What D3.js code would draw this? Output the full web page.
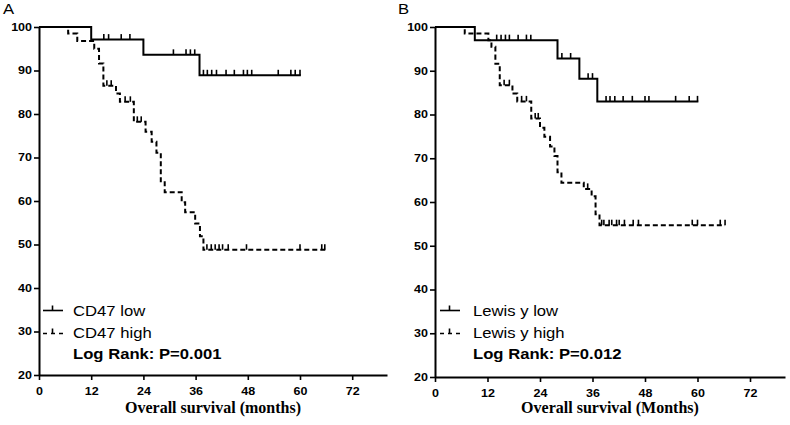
<!DOCTYPE html>
<html>
<head>
<meta charset="utf-8">
<script src="https://cdn.jsdelivr.net/npm/d3@7"></script>
<style>
  html, body { margin: 0; padding: 0; background: #fff; }
  svg { display: block; }
</style>
</head>
<body>
<svg id="chart" width="790" height="425"></svg>
<script>
// ---------------- DATA ----------------
const panelLetters = ["A", "B"];
const xTickValues = [0, 12, 24, 36, 48, 60, 72];
const yTickValues = [20, 30, 40, 50, 60, 70, 80, 90, 100];
const xTitles = ["Overall survival (months)", "Overall survival (Months)"];
const lowLabels = ["CD47 low", "Lewis y low"];
const highLabels = ["CD47 high", "Lewis y high"];
const pLabels = ["Log Rank: P=0.001", "Log Rank: P=0.012"];

// Panel A – CD47 low (solid)
const aLowTimes = [12.0, 24.0, 36.9];
const aLowSurv = [97.1, 93.6, 88.9];
const aLowEnd = 60.2;
const aLowCensor = [14.9, 16.0, 18.9, 20.9, 30.9, 33.8, 34.8, 35.8, 37.8, 38.7, 39.7, 40.8, 43.0, 44.9, 47.0, 47.9, 48.9, 55.0, 57.9, 58.9, 60.0];

// Panel A – CD47 high (dashed)
const aHighTimes = [6.7, 8.8, 12.7, 13.8, 14.8, 17.7, 18.6, 21.8, 24.5, 25.9, 27.0, 28.0, 28.9, 32.8, 33.6, 35.9, 37.0, 37.8];
const aHighSurv = [98.5, 96.8, 95.0, 91.6, 86.5, 84.7, 82.8, 78.2, 75.9, 73.6, 71.1, 64.3, 62.0, 59.7, 57.4, 54.8, 51.9, 48.8];
const aHighEnd = 66.0;
const aHighCensor = [15.6, 16.6, 19.8, 21.0, 22.6, 23.5, 38.6, 39.6, 40.5, 41.4, 42.2, 43.5, 47.7, 60.0, 65.0, 65.7];

// Panel B – Lewis y low (solid)
const bLowTimes = [9.1, 28.0, 33.0, 37.1];
const bLowSurv = [97.0, 92.8, 88.2, 83.0];
const bLowEnd = 60.2;
const bLowCensor = [14.1, 15.1, 16.1, 17.0, 19.0, 20.9, 21.9, 29.0, 31.0, 35.0, 36.0, 39.1, 40.0, 41.1, 43.0, 45.1, 48.0, 48.9, 55.0, 58.1, 60.0];

// Panel B – Lewis y high (dashed)
const bHighTimes = [6.8, 12.2, 12.9, 13.8, 14.8, 17.7, 18.8, 22.0, 24.0, 25.0, 26.3, 27.3, 28.0, 28.9, 34.0, 35.8, 36.7, 37.6];
const bHighSurv = [98.5, 97.0, 95.5, 91.6, 86.7, 84.8, 83.0, 79.1, 77.0, 74.9, 72.7, 70.5, 66.8, 64.4, 63.0, 61.3, 57.2, 54.7];
const bHighEnd = 66.3;
const bHighCensor = [15.8, 17.0, 19.8, 20.9, 22.9, 23.6, 34.9, 38.1, 38.6, 39.8, 40.4, 41.5, 42.1, 43.3, 45.3, 46.5, 58.8, 60.0, 65.2, 66.3];

// ---------------- LAYOUT ----------------
const panels = [
  { left: 39, right: 387, top: 27, bottom: 375, letterX: 3, legX: 43, textX: 73,
    low: { times: aLowTimes, surv: aLowSurv, end: aLowEnd, censor: aLowCensor },
    high: { times: aHighTimes, surv: aHighSurv, end: aHighEnd, censor: aHighCensor } },
  { left: 435, right: 785, top: 27, bottom: 377, letterX: 398, legX: 440, textX: 473,
    low: { times: bLowTimes, surv: bLowSurv, end: bLowEnd, censor: bLowCensor },
    high: { times: bHighTimes, surv: bHighSurv, end: bHighEnd, censor: bHighCensor } }
];

const SX = 1.19;          // horizontal stretch of the original figure's sans text
const sans = "'Liberation Sans', Arial, Helvetica, sans-serif";
const serif = "'Liberation Serif', 'Times New Roman', serif";

const svg = d3.select("#chart");

function stretch(sel, sx) {
  sel.each(function () {
    const t = d3.select(this);
    const x = +t.attr("x") || 0;
    t.attr("x", x / sx).attr("transform", `scale(${sx},1)`);
  });
}

function addText(g, x, y, str, size, weight, anchor) {
  return g.append("text")
    .attr("transform", `translate(${x},${y}) scale(${SX},1)`)
    .attr("font-family", sans)
    .attr("font-size", size)
    .attr("font-weight", weight)
    .attr("text-anchor", anchor || "start")
    .attr("fill", "#000")
    .text(str);
}

function survAt(times, surv, t) {
  let s = 100;
  for (let i = 0; i < times.length; i++) if (times[i] <= t) s = surv[i];
  return s;
}

panels.forEach((p, idx) => {
  const g = svg.append("g");
  const x = d3.scaleLinear().domain([0, 80]).range([p.left, p.right]);
  const y = d3.scaleLinear().domain([20, 100]).range([p.bottom, p.top]);

  // Axes
  const yAxis = g.append("g").attr("transform", `translate(${p.left},0)`)
    .call(d3.axisLeft(y).tickValues(yTickValues).tickSize(5).tickSizeOuter(0).tickPadding(2));
  const xAxis = g.append("g").attr("transform", `translate(0,${p.bottom})`)
    .call(d3.axisBottom(x).tickValues(xTickValues).tickSize(5).tickSizeOuter(0).tickPadding(8));

  [yAxis, xAxis].forEach(ax => {
    ax.select(".domain").attr("stroke", "#000").attr("stroke-width", 2);
    ax.selectAll(".tick line").attr("stroke", "#000").attr("stroke-width", 1.6);
    ax.selectAll(".tick text")
      .attr("font-family", sans).attr("font-size", 10.5).attr("font-weight", "bold").attr("fill", "#000");
  });
  stretch(yAxis.selectAll(".tick text"), SX);
  stretch(xAxis.selectAll(".tick text"), SX);

  // Panel letter
  addText(g, p.letterX, 14, panelLetters[idx], 14, "normal");

  // X title
  g.append("text")
    .attr("x", (p.left + p.right) / 2).attr("y", 413)
    .attr("text-anchor", "middle")
    .attr("font-family", serif).attr("font-size", 16).attr("font-weight", "bold")
    .attr("fill", "#000")
    .text(xTitles[idx]);

  // Curves
  const line = d3.line().x(d => x(d[0])).y(d => y(d[1])).curve(d3.curveStepAfter);
  const drawCurve = (c, dashed) => {
    const pts = [[0, 100]].concat(c.times.map((t, i) => [t, c.surv[i]]));
    pts.push([c.end, c.surv[c.surv.length - 1]]);
    g.append("path").datum(pts)
      .attr("d", line)
      .attr("fill", "none").attr("stroke", "#000").attr("stroke-width", 2)
      .attr("stroke-dasharray", dashed ? "5,3" : null);
    g.append("g").selectAll("line").data(c.censor).join("line")
      .attr("x1", d => x(d)).attr("x2", d => x(d))
      .attr("y1", d => y(survAt(c.times, c.surv, d)))
      .attr("y2", d => y(survAt(c.times, c.surv, d)) - 5.5)
      .attr("stroke", "#000").attr("stroke-width", 1.6);
  };
  drawCurve(p.high, true);
  drawCurve(p.low, false);

  // Legend
  const lx0 = p.legX, lx1 = p.legX + 20, lmid = p.legX + 9.5;
  const ly1 = 310.5, ly2 = 333.5;
  g.append("line").attr("x1", lx0).attr("x2", lx1).attr("y1", ly1).attr("y2", ly1)
    .attr("stroke", "#000").attr("stroke-width", 1.6);
  g.append("line").attr("x1", lmid).attr("x2", lmid).attr("y1", ly1).attr("y2", ly1 - 5)
    .attr("stroke", "#000").attr("stroke-width", 1.6);
  g.append("line").attr("x1", lx0).attr("x2", lx1).attr("y1", ly2).attr("y2", ly2)
    .attr("stroke", "#000").attr("stroke-width", 1.6).attr("stroke-dasharray", "4,4");
  g.append("line").attr("x1", lmid).attr("x2", lmid).attr("y1", ly2).attr("y2", ly2 - 5)
    .attr("stroke", "#000").attr("stroke-width", 1.6);

  addText(g, p.textX, 316, lowLabels[idx], 14, "normal");
  addText(g, p.textX, 337.5, highLabels[idx], 14, "normal");
  addText(g, p.textX, 358.5, pLabels[idx], 14, "bold");
});
</script>
</body>
</html>
